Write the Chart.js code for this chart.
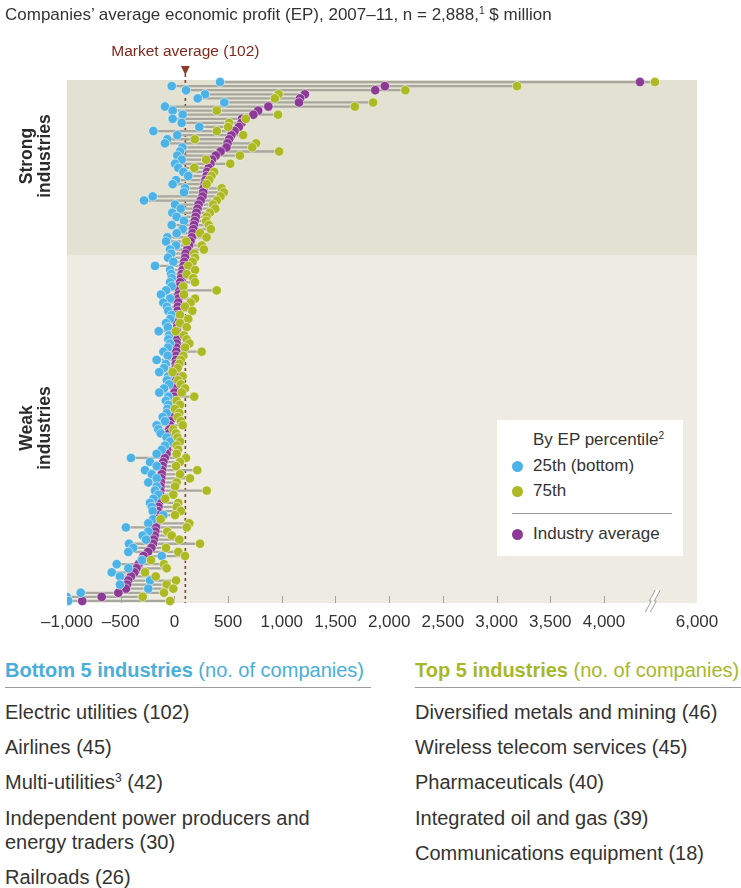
<!DOCTYPE html>
<html>
<head>
<meta charset="utf-8">
<title>Companies' average economic profit by industry</title>
<script src="https://cdn.jsdelivr.net/npm/chart.js@4.4.1/dist/chart.umd.min.js"></script>
<style>
  html, body { margin: 0; padding: 0; background: #fff; }
  body { font-family: "Liberation Sans", Arial, sans-serif; color: #333; }
  #page { position: relative; width: 741px; height: 888px; overflow: hidden; }
  .abs { position: absolute; white-space: nowrap; }
  #chartBox { position: absolute; left: 0; top: 0; width: 741px; height: 640px; }
  #title { left: 5px; top: 5px; font-size: 17px; color: #333; }
  #title sup, #legend sup, .list sup { font-size: 0.6em; vertical-align: 0.6em; line-height: 0; }
  #mktLabel { top: 42px; font-size: 15.5px; color: #7e2b1d; transform: translateX(-50%); }
  .side { font-weight: bold; font-size: 17.5px; line-height: 18px; text-align: center; color: #2b2b2b;
          transform: translate(-50%, -50%) rotate(-90deg); }
  #legend { left: 497px; top: 420px; width: 186px; height: 136px; background: #fff; font-size: 17px; color: #333; }
  #legend .item { position: absolute; left: 36px; white-space: nowrap; line-height: 20px; }
  #legend .dot { position: absolute; left: 14.5px; width: 11px; height: 11px; border-radius: 50%; }
  #legend .rule { position: absolute; left: 15px; width: 160px; top: 93px; border-top: 1px solid #9a9a9a; }
  .list { position: absolute; font-size: 20px; color: #333; white-space: nowrap; }
  .list .head { font-size: 20px; line-height: 23px; padding-bottom: 5px; border-bottom: 1.5px solid #9c9c9c; white-space: nowrap; }
  .list .head b { font-weight: bold; }
</style>
</head>
<body>
<div id="page">
  <div id="chartBox"><canvas id="chart"></canvas></div>

  <div id="title" class="abs">Companies’ average economic profit (EP), 2007–11, n = 2,888,<sup>1</sup> $ million</div>
  <div id="mktLabel" class="abs">Market average (102)</div>

  <div class="abs side" style="left:35px; top:156px;">Strong<br>industries</div>
  <div class="abs side" style="left:35px; top:428px;">Weak<br>industries</div>

  <div id="legend" class="abs">
    <div class="item" style="top:10px;">By EP percentile<sup>2</sup></div>
    <div class="dot" style="top:40.5px; background:#4db3e6;"></div>
    <div class="item" style="top:36px;">25th (bottom)</div>
    <div class="dot" style="top:65.5px; background:#adba24;"></div>
    <div class="item" style="top:61px;">75th</div>
    <div class="rule"></div>
    <div class="dot" style="top:108.5px; background:#8d3a97;"></div>
    <div class="item" style="top:104px;">Industry average</div>
  </div>

  <div class="list" style="left:5px; top:659px; width:366px;">
    <div class="head" style="color:#4aaedc;"><b>Bottom 5 industries</b> (no. of companies)</div>
  </div>
  <div class="list" style="left:415px; top:659px; width:326px;">
    <div class="head" style="color:#a6b82a;"><b>Top 5 industries</b> (no. of companies)</div>
  </div>
  <div id="bottomRows"></div>
</div>

<script>
// Industries ranked by average economic profit, $ million (top = highest average).
// The first STRONG_COUNT rows are the strong industries.
const STRONG_COUNT = 43;
const MARKET_AVERAGE = 102;

// 25th percentile of company EP within each industry
const P25 = [
  425, -25, 108, 285, 217, 465, -88, -16, 77, -16,
  68, 232, -196, 27, -66, -88, 74, 52, 27, 68,
  6, 36, 83, 129, 15, -16, 99, 89, -202, -283,
  6, 59, -20, 21, 89, -25, 77, 21, -66, -78,
  15, -41, -30,
  -60, -10, -180, -40, -30, -25, -40, -25, -78, -125,
  -40, -103, -70, -57, -25, -40, -78, -60, -146, -50,
  -57, -41, -60, -103, -62, -165, -80, -97, -141, -57,
  -70, -50, -97, -141, -57, -80, -57, -65, -72, -109,
  -88, -165, -150, -128, -72, -41, -88, -118, -165, -404,
  -227, -165, -274, -211, -165, -243, -165, -180, -150, -196,
  -227, -210, -202, -103, -200, -243, -451, -243, -295, -264,
  -423, -383, -429, -118, -300, -537, -429, -584, -507, -227,
  -507, -243, -872, -1003, -988
];

// Industry average EP
const AVERAGE = [
  4335, 1960, 1870, 1215, 1170, 1160, 875, 780, 735, 630,
  625, 600, 560, 530, 510, 495, 485, 430, 385, 350,
  335, 320, 305, 300, 290, 282, 272, 268, 262, 245,
  225, 215, 205, 198, 190, 182, 176, 170, 162, 150,
  135, 120, 105,
  100, 92, 85, 76, 68, 60, 54, 48, 44, 40,
  37, 34, 32, 30, 28, 27, 26, 25, 24, 22,
  21, 20, 19, 18, 16, 14, 13, 12, 10, 8,
  7, 5, 3, 1, -2, -6, -10, -16, -22, -28,
  -38, -42, -46, -50, -55, -60, -64, -68, -74, -90,
  -103, -110, -115, -118, -122, -126, -130, -132, -134, -138,
  -143, -149, -154, -159, -164, -169, -173, -178, -184, -192,
  -200, -215, -245, -288, -305, -332, -352, -372, -405, -430,
  -440, -452, -522, -677, -858
];

// 75th percentile of company EP within each industry
const P75 = [
  4540, 3190, 2150, 970, 935, 1850, 1680, 395, 965, 665,
  510, 500, 395, 640, 190, 760, 725, 975, 610, 295,
  520, 185, 370, 345, 325, 300, 440, 460, 430, 395,
  360, 380, 330, 300, 295, 320, 340, 240, 300, 110,
  255, 275, 185,
  192, 170, 129, 192, 115, 176, 192, 83, 394, 89,
  192, 152, 99, 167, 52, 129, 52, 115, 12, 89,
  115, 140, 99, 254, 83, 60, 46, 30, -16, 77,
  36, 60, 99, 68, 185, 21, 52, 6, 46, 30,
  60, 77, -10, 15, 30, 52, 21, 35, 21, 108,
  52, 15, 213, 52, 145, 21, 6, 301, -10, -85,
  36, 21, 59, 6, -128, 139, 115, -66, -25, 46,
  238, -78, 36, 99, -218, -97, -72, -274, -174, 15,
  -72, -10, -97, -295, -41
];

// Axis ticks ($ million); the axis is broken between 4,000 and 6,000
const X_TICKS = [-1000, -500, 0, 500, 1000, 1500, 2000, 2500, 3000, 3500, 4000, 6000];
const BREAK_START = 4450;
const BREAK_FACTOR = 0.2684;

const BOTTOM_5 = [
  'Electric utilities (102)',
  'Airlines (45)',
  'Multi-utilities<sup>3</sup> (42)',
  'Independent power producers and<br>energy traders (30)',
  'Railroads (26)'
];
const TOP_5 = [
  'Diversified metals and mining (46)',
  'Wireless telecom services (45)',
  'Pharmaceuticals (40)',
  'Integrated oil and gas (39)',
  'Communications equipment (18)'
];

// Row keys for the category axis (rank of each industry)
const RANKS = AVERAGE.map((_, i) => String(i + 1));

const COLORS = {
  p25: '#4db3e6',
  p75: '#adba24',
  avg: '#8d3a97',
  connector: '#a8a79d',
  strongBg: '#e3e1d1',
  weakBg: '#eeece2',
  market: '#8e3b2c'
};

// Linear scale that compresses everything beyond BREAK_START
class BrokenLinearScale extends Chart.LinearScale {
  squeeze(v) { return v <= BREAK_START ? v : BREAK_START + (v - BREAK_START) * BREAK_FACTOR; }
  unsqueeze(v) { return v <= BREAK_START ? v : BREAK_START + (v - BREAK_START) / BREAK_FACTOR; }
  determineDataLimits() {
    this.min = this.options.min;
    this.max = this.squeeze(this.options.max);
  }
  buildTicks() { return X_TICKS.map(value => ({ value })); }
  getPixelForValue(v) { return super.getPixelForValue(this.squeeze(v)); }
  getValueForPixel(p) { return this.unsqueeze(super.getValueForPixel(p)); }
}
BrokenLinearScale.id = 'brokenLinear';
BrokenLinearScale.defaults = {};
Chart.register(BrokenLinearScale);

function formatTick(v) {
  return (v < 0 ? '\u2013' : '') + Math.abs(v).toLocaleString('en-US');
}

// Shaded strong/weak bands, small tick marks and the market-average marker
const backdrop = {
  id: 'backdrop',
  beforeDatasetsDraw(chart) {
    const { ctx, chartArea: a, scales: { x, y } } = chart;
    const split = (y.getPixelForValue(STRONG_COUNT - 1) + y.getPixelForValue(STRONG_COUNT)) / 2;
    ctx.save();
    ctx.fillStyle = COLORS.strongBg;
    ctx.fillRect(a.left, a.top, a.right - a.left, split - a.top);
    ctx.fillStyle = COLORS.weakBg;
    ctx.fillRect(a.left, split, a.right - a.left, a.bottom - split);

    ctx.strokeStyle = '#a3a39a';
    ctx.lineWidth = 1;
    X_TICKS.slice(1, -1).forEach(v => {
      const px = Math.round(x.getPixelForValue(v)) + 0.5;
      ctx.beginPath();
      ctx.moveTo(px, a.bottom - 7);
      ctx.lineTo(px, a.bottom);
      ctx.stroke();
    });

    const mx = x.getPixelForValue(MARKET_AVERAGE);
    ctx.strokeStyle = COLORS.market;
    ctx.lineWidth = 1.6;
    ctx.setLineDash([3, 3]);
    ctx.beginPath();
    ctx.moveTo(mx, a.top - 6);
    ctx.lineTo(mx, a.bottom);
    ctx.stroke();
    ctx.setLineDash([]);
    ctx.fillStyle = COLORS.market;
    ctx.beginPath();
    ctx.moveTo(mx - 4.5, a.top - 14);
    ctx.lineTo(mx + 4.5, a.top - 14);
    ctx.lineTo(mx, a.top - 5);
    ctx.closePath();
    ctx.fill();
    ctx.restore();

    const label = document.getElementById('mktLabel');
    label.style.left = mx + 'px';
  },
  afterDraw(chart) {
    // axis-break glyph
    const { ctx, chartArea: a, scales: { x } } = chart;
    const bx = x.getPixelForValue(BREAK_START);
    const by = a.bottom;
    const path = dx => [
      [bx - 7 + dx, by + 9], [bx - 1 + dx, by - 2], [bx - 3 + dx, by - 2], [bx + 3 + dx, by - 13]
    ];
    const left = path(0), right = path(5);
    ctx.save();
    ctx.fillStyle = '#ffffff';
    ctx.beginPath();
    left.forEach(([px, py], i) => (i ? ctx.lineTo(px, py) : ctx.moveTo(px, py)));
    right.slice().reverse().forEach(([px, py]) => ctx.lineTo(px, py));
    ctx.closePath();
    ctx.fill();
    ctx.strokeStyle = '#a0a0a0';
    ctx.lineWidth = 1;
    [left, right].forEach(pts => {
      ctx.beginPath();
      pts.forEach(([px, py], i) => (i ? ctx.lineTo(px, py) : ctx.moveTo(px, py)));
      ctx.stroke();
    });
    ctx.restore();
  }
};

const pointStyle = color => ({
  type: 'line',
  indexAxis: 'y',
  showLine: false,
  pointRadius: 4.7,
  pointBackgroundColor: color,
  pointBorderColor: 'rgba(255,255,255,0.65)',
  pointBorderWidth: 0.8,
  pointHoverRadius: 4.7
});

new Chart(document.getElementById('chart'), {
  type: 'bar',
  data: {
    labels: RANKS,
    datasets: [
      {
        label: 'Range',
        indexAxis: 'y',
        data: P25.map((v, i) => [Math.min(v, AVERAGE[i], P75[i]), Math.max(v, AVERAGE[i], P75[i])]),
        backgroundColor: COLORS.connector,
        barThickness: 1.6,
        borderSkipped: false,
        order: 4
      },
      Object.assign({ label: 'Industry average', data: AVERAGE, order: 3 }, pointStyle(COLORS.avg)),
      Object.assign({ label: '25th (bottom)', data: P25, order: 2 }, pointStyle(COLORS.p25)),
      Object.assign({ label: '75th', data: P75, order: 1 }, pointStyle(COLORS.p75))
    ]
  },
  options: {
    indexAxis: 'y',
    responsive: true,
    maintainAspectRatio: false,
    animation: false,
    events: [],
    layout: { padding: { top: 80, left: 67, right: 44, bottom: 3 } },
    plugins: { legend: { display: false }, tooltip: { enabled: false } },
    scales: {
      x: {
        type: 'brokenLinear',
        position: 'bottom',
        min: -1000,
        max: 6000,
        grid: { display: false, drawTicks: false },
        border: { display: false },
        afterFit: s => { s.height = 34; },
        ticks: {
          autoSkip: false,
          maxRotation: 0,
          padding: 9,
          color: '#333',
          font: { family: '"Liberation Sans", Arial, sans-serif', size: 17 },
          callback: v => formatTick(v)
        }
      },
      y: {
        type: 'category',
        display: false,
        offset: true
      }
    }
  },
  plugins: [backdrop]
});

// Bottom / top five industry lists
(function buildLists() {
  const host = document.getElementById('bottomRows');
  const leftTops = [700, 735, 770, 806, 865];
  const rightTops = [700, 735, 770, 806, 841];
  const add = (text, left, top) => {
    const d = document.createElement('div');
    d.className = 'list';
    d.style.cssText = 'left:' + left + 'px; top:' + top + 'px; line-height:24px;';
    d.innerHTML = text;
    host.appendChild(d);
  };
  BOTTOM_5.forEach((t, i) => add(t, 5, leftTops[i]));
  TOP_5.forEach((t, i) => add(t, 415, rightTops[i]));
})();
</script>
</body>
</html>
